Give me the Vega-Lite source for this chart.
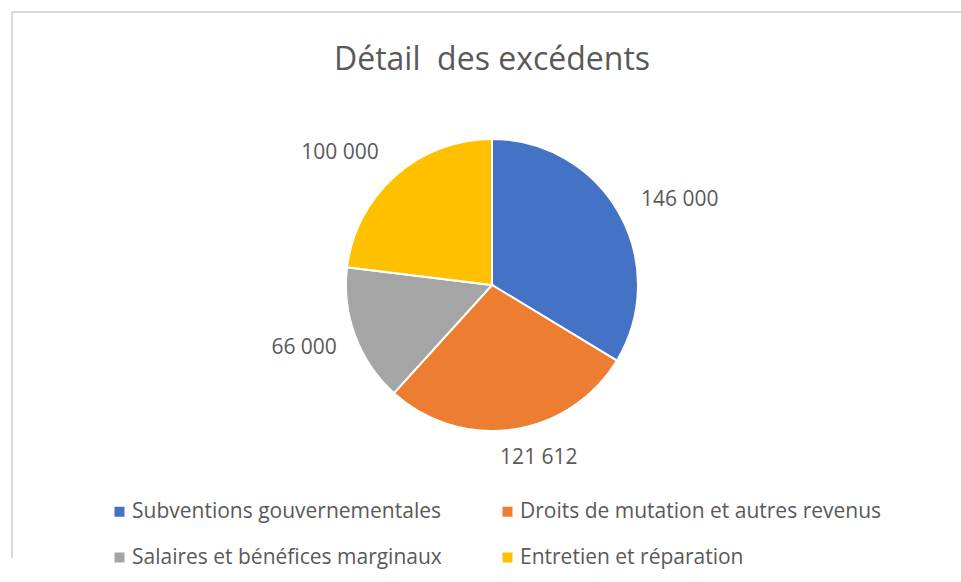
{
  "$schema": "https://vega.github.io/schema/vega-lite/v6.json",
  "width": 960,
  "height": 546,
  "autosize": "none",
  "padding": {"left": 12, "top": 12, "right": 0, "bottom": 24},
  "background": "white",
  "view": {"stroke": "#d9d9d9", "strokeWidth": 2, "strokeDash": [1506, 960, 546, 0]},
  "title": {
    "text": "Détail\u00a0 des excédents",
    "font": "Open Sans",
    "fontSize": 32,
    "fontWeight": "normal",
    "color": "#595959",
    "anchor": "middle",
    "baseline": "alphabetic",
    "offset": -90
  },
  "data": {
    "values": [
      {"category": "Subventions gouvernementales", "value": 146000, "order": 1},
      {"category": "Droits de mutation et autres revenus", "value": 121612, "order": 2},
      {"category": "Salaires et bénéfices marginaux", "value": 66000, "order": 3},
      {"category": "Entretien et réparation", "value": 100000, "order": 4}
    ]
  },
  "encoding": {
    "theta": {"field": "value", "type": "quantitative", "stack": true},
    "order": {"field": "order", "type": "quantitative"},
    "color": {
      "field": "category",
      "type": "nominal",
      "scale": {
        "domain": ["Subventions gouvernementales", "Droits de mutation et autres revenus", "Salaires et bénéfices marginaux", "Entretien et réparation"],
        "range": ["#4472c4", "#ed7d31", "#a5a5a5", "#ffc000"]
      },
      "legend": {
        "title": null,
        "orient": "none",
        "legendX": 97,
        "legendY": 489,
        "direction": "horizontal",
        "columns": 2,
        "columnPadding": 55,
        "rowPadding": 24,
        "symbolType": "square",
        "symbolSize": 100,
        "symbolStrokeWidth": 0,
        "labelFont": "Open Sans",
        "labelFontSize": 21,
        "labelColor": "#595959",
        "labelOffset": 2,
        "labelLimit": 500
      }
    }
  },
  "layer": [
    {"mark": {"type": "arc", "outerRadius": 146, "stroke": "white", "strokeWidth": 2}},
    {
      "mark": {"type": "text", "radius": 206, "thetaOffset": 0.089, "font": "Open Sans", "fontSize": 21},
      "encoding": {
        "text": {"condition": {"test": "datum.order != 1", "value": ""}, "field": "value", "type": "quantitative", "format": ",d"},
        "color": {"value": "#595959"}
      }
    },
    {
      "mark": {"type": "text", "radius": 179, "thetaOffset": -0.12, "font": "Open Sans", "fontSize": 21},
      "encoding": {
        "text": {"condition": {"test": "datum.order != 2", "value": ""}, "field": "value", "type": "quantitative", "format": ",d"},
        "color": {"value": "#595959"}
      }
    },
    {
      "mark": {"type": "text", "radius": 198, "thetaOffset": 0.035, "font": "Open Sans", "fontSize": 21},
      "encoding": {
        "text": {"condition": {"test": "datum.order != 3", "value": ""}, "field": "value", "type": "quantitative", "format": ",d"},
        "color": {"value": "#595959"}
      }
    },
    {
      "mark": {"type": "text", "radius": 201, "thetaOffset": -0.133, "font": "Open Sans", "fontSize": 21},
      "encoding": {
        "text": {"condition": {"test": "datum.order != 4", "value": ""}, "field": "value", "type": "quantitative", "format": ",d"},
        "color": {"value": "#595959"}
      }
    }
  ],
  "config": {
    "locale": {"number": {"decimal": ",", "thousands": " ", "grouping": [3], "currency": ["", " €"]}}
  }
}
